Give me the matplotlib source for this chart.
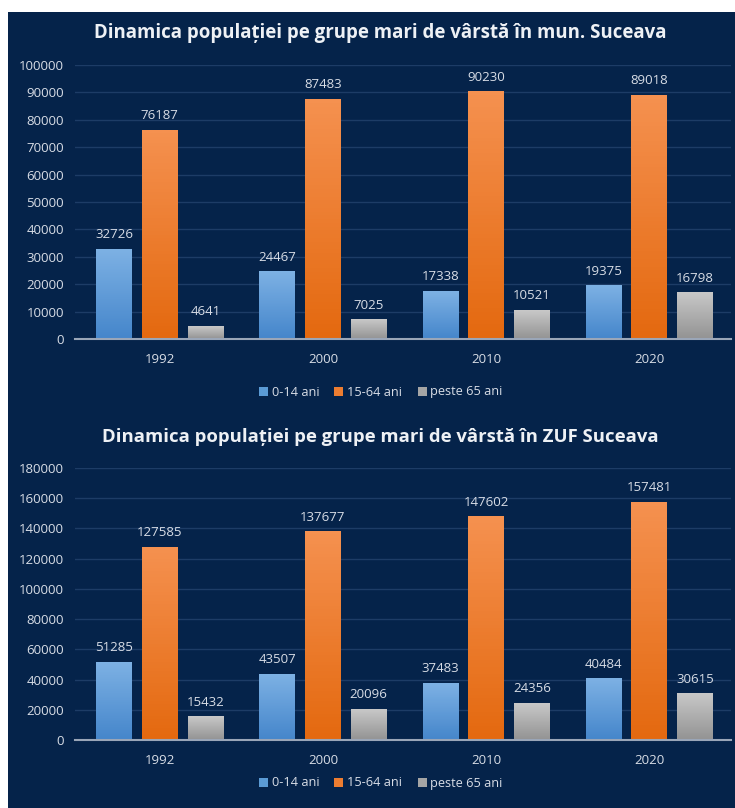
import matplotlib.pyplot as plt
import numpy as np
from matplotlib.colors import LinearSegmentedColormap
from matplotlib.patches import Rectangle, Patch

years = ['1992', '2000', '2010', '2020']
groups = ['0-14 ani', '15-64 ani', 'peste 65 ani']

mun_0_14 = [32726, 24467, 17338, 19375]
mun_15_64 = [76187, 87483, 90230, 89018]
mun_65 = [4641, 7025, 10521, 16798]

zuf_0_14 = [51285, 43507, 37483, 40484]
zuf_15_64 = [127585, 137677, 147602, 157481]
zuf_65 = [15432, 20096, 24356, 30615]

bg = '#05234a'
txt = '#d8dde6'
grads = [('#7db1e4', '#4586cb'), ('#f59150', '#e4690f'), ('#c8c8c8', '#939393')]
solid = ['#5b9bd5', '#ed7d31', '#a5a5a5']

plt.rcParams['font.family'] = ['Open Sans', 'DejaVu Sans']

fig = plt.figure(figsize=(7.35, 8.08), dpi=100, facecolor='white')
fig.patches.append(Rectangle((8 / 735, 0), 1 - 8 / 735, 1 - 12 / 808,
                             transform=fig.transFigure, facecolor=bg,
                             edgecolor='none', zorder=-5))


def draw_panel(rect, series, ymax, title, title_y, title_size, legend_y):
    ax = fig.add_axes(rect)
    ax.set_facecolor('none')
    x = np.arange(len(years))
    w = 0.22
    offs = [-0.28, 0, 0.28]
    for vals, off, (c_top, c_bot) in zip(series, offs, grads):
        bars = ax.bar(x + off, vals, w, color=c_bot, zorder=2)
        cmap = LinearSegmentedColormap.from_list('g', [c_bot, c_top])
        grad = np.linspace(0, 1, 64).reshape(-1, 1)
        for b, v in zip(bars, vals):
            x0 = b.get_x()
            ax.imshow(grad, cmap=cmap, origin='lower', aspect='auto',
                      extent=[x0, x0 + b.get_width(), 0, v], zorder=3)
            ax.text(b.get_x() + b.get_width() / 2, v + ymax * 0.03, str(v),
                    ha='center', va='bottom', color=txt, fontsize=9.5,
                    zorder=4)
    ax.set_xlim(-0.52, 3.5)
    ax.set_ylim(0, ymax)
    step = ymax // (10 if ymax == 100000 else 9)
    ax.set_yticks(np.arange(0, ymax + 1, step))
    ax.set_yticklabels([str(t) for t in np.arange(0, ymax + 1, step)])
    ax.set_xticks(x)
    ax.set_xticklabels(years)
    ax.tick_params(colors=txt, labelsize=9.5, length=0, pad=8)
    ax.tick_params(axis='x', pad=10)
    ax.grid(axis='y', color='#1d3c66', linewidth=1, zorder=0)
    ax.set_axisbelow(True)
    for s in ['top', 'right', 'left']:
        ax.spines[s].set_visible(False)
    ax.spines['bottom'].set_color('#9aa6b8')
    ax.spines['bottom'].set_linewidth(1.5)
    ax.spines['bottom'].set_zorder(5)
    fig.text(0.517, title_y, title, ha='center', va='center', color='#eef1f5',
             fontsize=title_size, fontweight='bold')
    handles = [Patch(facecolor=c) for c in solid]
    fig.legend(handles, groups, loc='center', bbox_to_anchor=(0.518, legend_y),
               ncol=3, frameon=False, labelcolor=txt, fontsize=9.2,
               handlelength=0.7, handleheight=0.7, handletextpad=0.3,
               columnspacing=1.2)
    return ax


draw_panel([75 / 735, 1 - 339 / 808, 656 / 735, 274 / 808],
           [mun_0_14, mun_15_64, mun_65], 100000,
           'Dinamica populației pe grupe mari de vârstă în mun. Suceava',
           1 - 33 / 808, 13.4, 1 - 392 / 808)
draw_panel([75 / 735, 1 - 740 / 808, 656 / 735, 272 / 808],
           [zuf_0_14, zuf_15_64, zuf_65], 180000,
           'Dinamica populației pe grupe mari de vârstă în ZUF Suceava',
           1 - 437 / 808, 13.3, 1 - 783 / 808)

fig.savefig('out.png', dpi=100, facecolor='white')
